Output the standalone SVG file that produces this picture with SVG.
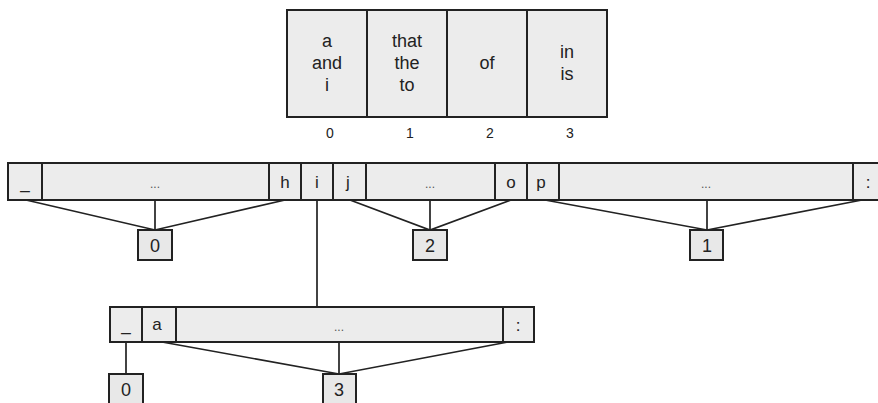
<svg xmlns="http://www.w3.org/2000/svg" width="878" height="403" viewBox="0 0 878 403">
<style>
.cell{fill:#ececec;stroke:#222;stroke-width:2}
.box{fill:#e8e8e8;stroke:#222;stroke-width:2}
.t{font-family:"Liberation Sans",Arial,sans-serif;font-size:18px;fill:#222;text-anchor:middle}
.r{font-family:"Liberation Sans",Arial,sans-serif;font-size:17px;fill:#222;text-anchor:middle}
.s{font-family:"Liberation Sans",Arial,sans-serif;font-size:14px;fill:#222;text-anchor:middle}
.d{font-family:"Liberation Sans",Arial,sans-serif;font-size:12px;fill:#555;text-anchor:middle}
.b{font-family:"Liberation Sans",Arial,sans-serif;font-size:18px;fill:#222;text-anchor:middle}
.c{fill:none;stroke:#222;stroke-width:1.7}
</style>
<rect width="878" height="403" fill="#ffffff"/>
<g id="table">
<rect class="cell" x="287" y="10" width="80" height="107"/>
<rect class="cell" x="367" y="10" width="80" height="107"/>
<rect class="cell" x="447" y="10" width="80" height="107"/>
<rect class="cell" x="527" y="10" width="80" height="107"/>
<text class="t" x="327" y="47">a</text>
<text class="t" x="327" y="69">and</text>
<text class="t" x="327" y="91">i</text>
<text class="t" x="407" y="47">that</text>
<text class="t" x="407" y="69">the</text>
<text class="t" x="407" y="91">to</text>
<text class="t" x="487" y="69">of</text>
<text class="t" x="567" y="58">in</text>
<text class="t" x="567" y="80">is</text>
<text class="s" x="330" y="138">0</text>
<text class="s" x="410" y="138">1</text>
<text class="s" x="490" y="138">2</text>
<text class="s" x="570" y="138">3</text>
</g>
<g id="connectors">
<polyline class="c" points="26,200 155,230 285,200"/>
<line class="c" x1="155" y1="200" x2="155" y2="230"/>
<polyline class="c" points="350,200 430,230 511,200"/>
<line class="c" x1="430" y1="200" x2="430" y2="230"/>
<polyline class="c" points="545,200 707,230 862,200"/>
<line class="c" x1="707" y1="200" x2="707" y2="230"/>
<line class="c" x1="317" y1="200" x2="317" y2="307"/>
<line class="c" x1="126" y1="342" x2="126" y2="374"/>
<polyline class="c" points="162,342 339,374 508,342"/>
<line class="c" x1="339" y1="342" x2="339" y2="374"/>
</g>
<g id="row1">
<rect class="cell" x="8" y="163" width="34" height="37"/>
<rect class="cell" x="42" y="163" width="227" height="37"/>
<rect class="cell" x="269" y="163" width="32" height="37"/>
<rect class="cell" x="301" y="163" width="32" height="37"/>
<rect class="cell" x="333" y="163" width="33" height="37"/>
<rect class="cell" x="366" y="163" width="129" height="37"/>
<rect class="cell" x="495" y="163" width="32" height="37"/>
<rect class="cell" x="527" y="163" width="32" height="37"/>
<rect class="cell" x="559" y="163" width="294" height="37"/>
<rect class="cell" x="853" y="163" width="40" height="37"/>
<text class="r" x="25" y="189">_</text>
<text class="d" x="155" y="188">...</text>
<text class="r" x="285" y="188">h</text>
<text class="r" x="317" y="188">i</text>
<text class="r" x="348" y="188">j</text>
<text class="d" x="430" y="188">...</text>
<text class="r" x="511" y="188">o</text>
<text class="r" x="541" y="188">p</text>
<text class="d" x="706" y="188">...</text>
<text class="r" x="868" y="188">:</text>
</g>
<g id="row2">
<rect class="cell" x="110" y="307" width="32" height="35"/>
<rect class="cell" x="142" y="307" width="34" height="35"/>
<rect class="cell" x="176" y="307" width="327" height="35"/>
<rect class="cell" x="503" y="307" width="31" height="35"/>
<text class="r" x="126" y="331">_</text>
<text class="r" x="157" y="330">a</text>
<text class="d" x="339" y="331">...</text>
<text class="r" x="518" y="331">:</text>
</g>
<g id="box0"><rect class="box" x="138" y="230" width="34" height="30"/><text class="b" x="155" y="252">0</text></g>
<g id="box2"><rect class="box" x="413" y="230" width="34" height="30"/><text class="b" x="430" y="252">2</text></g>
<g id="box1"><rect class="box" x="690" y="230" width="33" height="30"/><text class="b" x="707" y="252">1</text></g>
<g id="box0b"><rect class="box" x="109" y="374" width="34" height="30"/><text class="b" x="126" y="396">0</text></g>
<g id="box3"><rect class="box" x="323" y="374" width="33" height="30"/><text class="b" x="339" y="396">3</text></g>
</svg>
